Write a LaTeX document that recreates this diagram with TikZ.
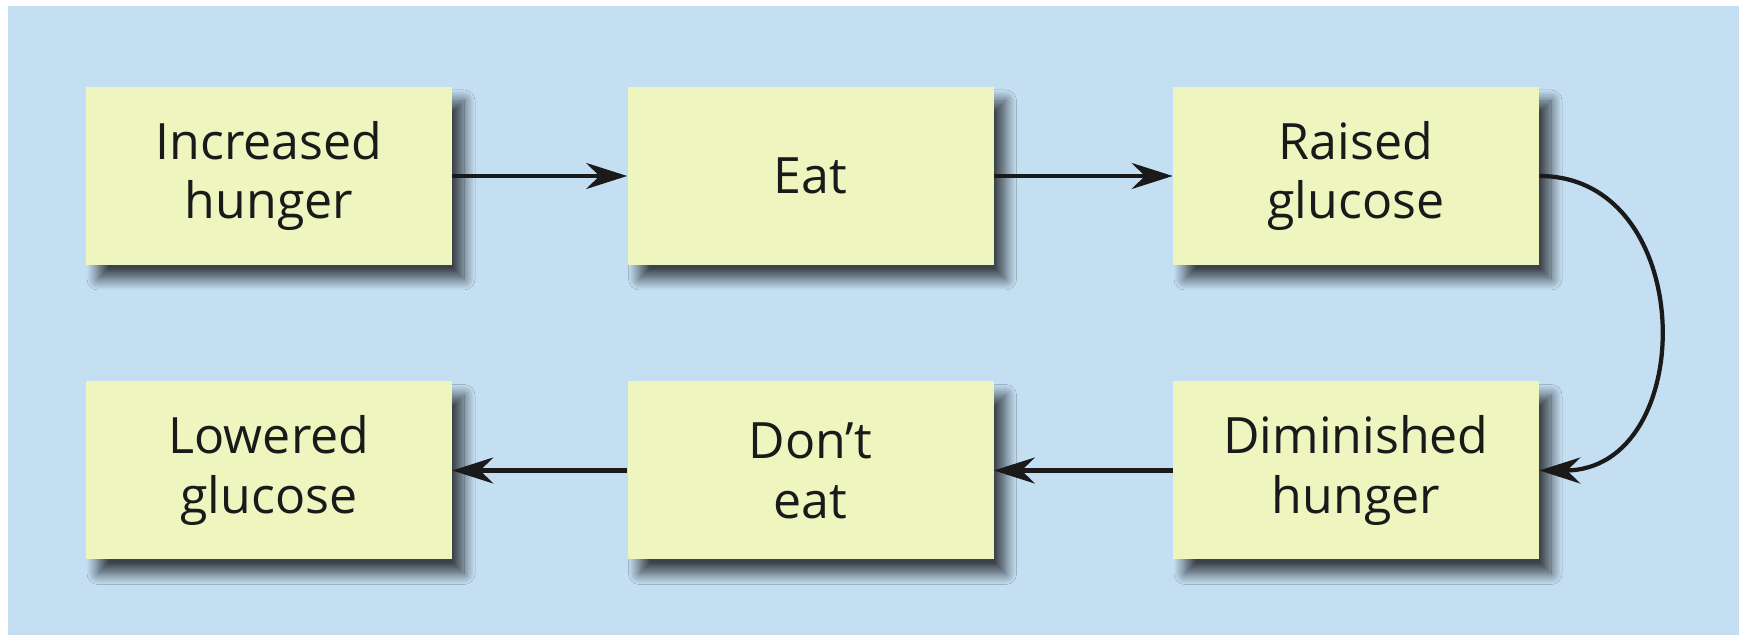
\documentclass[tikz,border=0pt]{standalone}
\usepackage{fontspec}
\setmainfont{Open Sans}
\usetikzlibrary{arrows.meta,shadows.blur}

\definecolor{panelblue}{HTML}{C4DEF2}
\definecolor{boxyellow}{HTML}{EEF5BF}
\definecolor{inkblack}{HTML}{1A1A1A}

\tikzset{
  stepbox/.style={fill=boxyellow, minimum width=7.32cm, minimum height=3.56cm,
    align=center, text=inkblack, font=\fontsize{28.5}{34}\selectfont,
    blur shadow={shadow xshift=0.24cm, shadow yshift=-0.28cm,
      shadow blur radius=0.22cm, shadow blur steps=16, shadow opacity=70,
      shadow blur extra rounding=0pt}},
  flow/.style={-{Stealth[length=0.82cm,width=0.52cm]}, line width=0.085cm, draw=inkblack}
}

\begin{document}
\begin{tikzpicture}
    \useasboundingbox (0,0) rectangle (34.78,12.7);
    \fill[panelblue] (0.16,0) rectangle (34.78,12.58);

    % top row
    \node[stepbox] (inc) at (5.38,9.18) {Increased\\hunger};
    \node[stepbox] (eat) at (16.21,9.18) {Eat};
    \node[stepbox] (raised) at (27.12,9.18) {Raised\\glucose};

    % bottom row
    \node[stepbox] (lowered) at (5.38,3.29) {Lowered\\glucose};
    \node[stepbox] (donteat) at (16.21,3.29) {Don’t\\eat};
    \node[stepbox] (dimin) at (27.12,3.29) {Diminished\\hunger};

    \draw[flow] (inc) -- (eat);
    \draw[flow] (eat) -- (raised);
    \draw[flow] (raised.east) .. controls +(3.2,0) and +(3.2,0) .. (dimin.east);
    \draw[flow] (dimin) -- (donteat);
    \draw[flow] (donteat) -- (lowered);
\end{tikzpicture}
\end{document}
